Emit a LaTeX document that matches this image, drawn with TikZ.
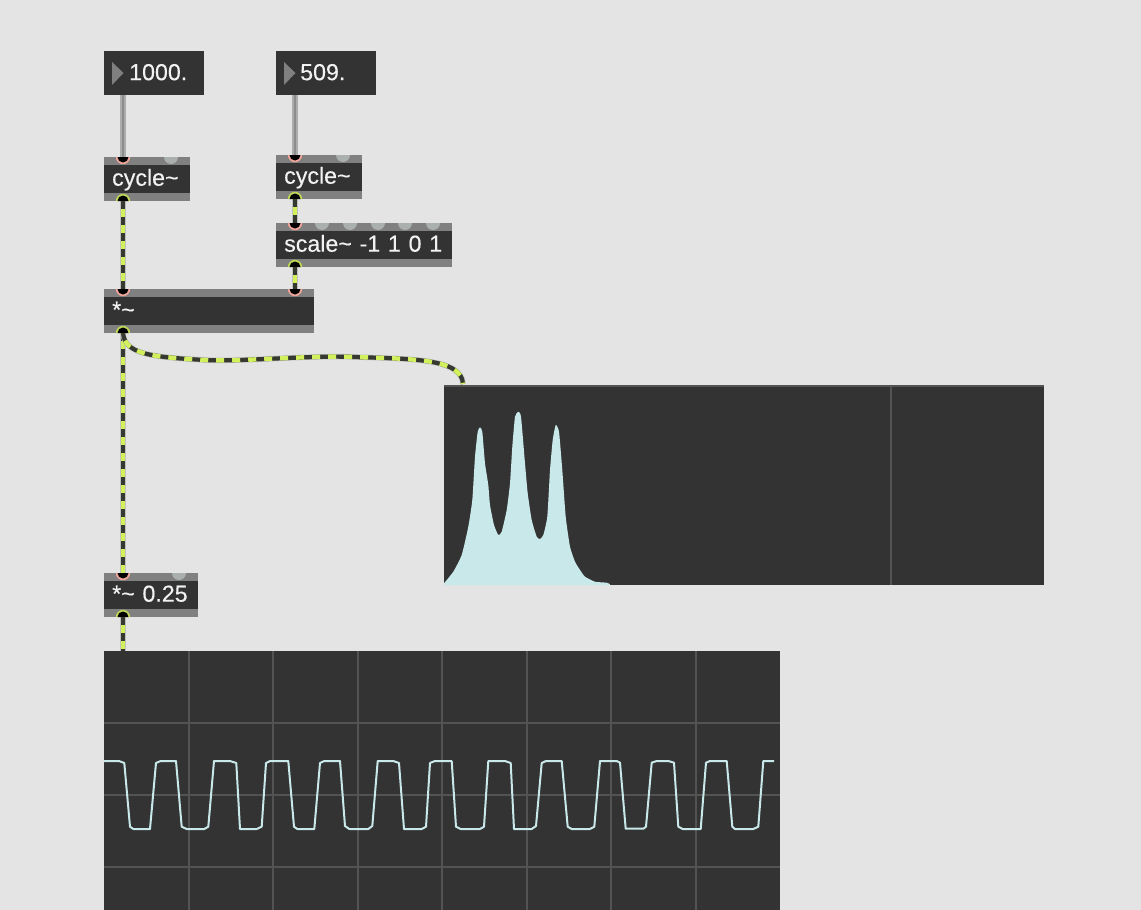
\documentclass[tikz,border=0pt]{standalone}
\usepackage{fontspec}
\setmainfont[FakeBold=0.25]{Liberation Sans}
\usepackage{xcolor}
\definecolor{patcher}{HTML}{E4E4E4}
\definecolor{objbody}{HTML}{333333}
\definecolor{objbar}{HTML}{808080}
\definecolor{gridln}{HTML}{535353}
\definecolor{tracecol}{HTML}{C9E8E9}
\definecolor{sigdark}{HTML}{35392F}
\definecolor{siglime}{HTML}{D2F05C}
\definecolor{portgray}{HTML}{AAB0AE}
\definecolor{inletcol}{HTML}{F2A598}
\tikzset{
  maxfont/.style={font=\fontsize{23.2}{25}\selectfont, text=white!95!black},
  numbox/.style={maxfont, fill=objbody, anchor=north west, inner xsep=0pt, inner ysep=0pt,
    text width=100pt, align=left, minimum height=44pt, text height=17.5pt, text depth=3.5pt},
  maxobj/.style={maxfont, fill=objbody, anchor=north west, inner xsep=8pt, inner ysep=0pt,
    align=left, minimum height=44pt, text height=17pt, text depth=4pt,
    path picture={
      \fill[objbar] (path picture bounding box.north west) rectangle ([yshift=-8pt]path picture bounding box.north east);
      \fill[objbar] (path picture bounding box.south west) rectangle ([yshift=8pt]path picture bounding box.south east);
    }},
  viewbox/.style={fill=objbody, anchor=north west, inner sep=0pt},
  gridline/.style={gridln, line width=2pt},
  msgcord/.style={draw=gray!90, line width=2pt, preaction={draw=gray!65, line width=5.5pt}},
  sigcord/.style={draw=sigdark, line width=4.2pt, preaction={draw=gray!50, line width=5.4pt},
    postaction={draw=siglime, line width=4.4pt, dash pattern=on 8pt off 8pt, dash phase=8pt}},
  inletdot/.style={fill=inletcol},
  outletdot/.style={fill=siglime!90!black},
  spareport/.style={fill=portgray},
}
\begin{document}
\begin{tikzpicture}[x=1pt,y=-1pt]
\fill[patcher] (0,0) rectangle (1141,910);
\useasboundingbox (0,0) rectangle (1141,910);

% number boxes
\node[numbox] (numA) at (104,51) {\hspace*{25pt}1000.};
\node[numbox] (numB) at (276,51) {\hspace*{24pt}509.};
\fill[objbar] (112,62) -- (123.5,73) -- (112,85) -- cycle;
\fill[objbar] (284,62) -- (295.5,73) -- (284,85) -- cycle;

% objects
\node[maxobj, text width=70pt] (cycA) at (104,157) {cycle\textasciitilde};
\node[maxobj, text width=70pt] (cycB) at (276,155) {cycle\textasciitilde};
\node[maxobj, text width=160pt] (scaleB) at (276,223) {scale\textasciitilde{} -1 1 0 1};
\node[maxobj, text width=194pt] (mulA) at (104,289) {*\textasciitilde};
\node[maxobj, text width=78pt] (mulB) at (104,573) {*\textasciitilde{} 0.25};

% unused inlets
\begin{scope}
\clip (104,157) rectangle (190,165) (276,155) rectangle (362,163) (276,223) rectangle (452,231) (104,573) rectangle (198,581);
\foreach \px/\py in {171/157,343/155,322/223,350/223,378/223,405/223,433/223,179/573}
  \fill[spareport] (\px,\py) circle [radius=7pt];
\end{scope}

% spectroscope
\node[viewbox, minimum width=600pt, minimum height=200pt] (spect) at (444,385) {};
\fill[gridln] (444,385) rectangle (1044,387);
\draw[gridline] (891,386) -- (891,585);
\fill[tracecol] plot[smooth, tension=0.3] coordinates {(444,583.3) (453.3,571.7) (461.7,555) (468.3,526.7) (472.3,500) (475,456.7)
  (477.7,431.7) (480,427.3) (482.3,431.7) (485,463.3) (488.3,485) (490,505) (494,525)
  (498.3,535) (501.7,531.7) (506.7,510) (510,483.3) (512.3,446.7) (515,416.7) (518.3,411.7)
  (521,416.7) (525,463.3) (527.7,493.3) (531.7,520) (536.7,536.7) (540,539) (543.3,535)
  (547.3,516.7) (550,470) (552.7,440) (555.7,425) (559,431.7) (562.3,470) (565.7,516.7)
  (570,546.7) (575,561.7) (580,570) (585,576.7) (595,581.7) (606.7,582.7) (610,584.3)} -- (610,585) -- (444,585) -- cycle;

% oscilloscope
\node[viewbox, minimum width=676pt, minimum height=259pt] (scopeview) at (104,651) {};
\foreach \gx in {189,273,358,442,527,611,696}
  \draw[gridline] (\gx,651) -- (\gx,910);
\foreach \gy in {723,795,867}
  \draw[gridline] (104,\gy) -- (780,\gy);
\draw[tracecol, line width=2pt, line join=round] (104,761) -- (119,761) -- (124.3,763) -- (130,826.7) -- (133.3,829)
  -- (150,829) -- (156,763) -- (160.7,761) -- (176,761) -- (181.7,826.7) -- (186.7,829) -- (204.3,829) -- (208.3,826.7)
  -- (214,761) -- (230,761) -- (236.3,763) -- (240,829) -- (256.7,829) -- (261.7,826.7) -- (266,763) -- (270,761)
  -- (288.3,761) -- (294,826.7) -- (297.3,829) -- (314.3,829) -- (320,763) -- (324.3,761) -- (340,761) -- (345,826)
  -- (349.3,829) -- (368.3,829) -- (372.3,826) -- (377.7,761) -- (393.3,761) -- (399,763) -- (404,829) -- (421.7,829)
  -- (426,826.7) -- (430,763) -- (435,761) -- (451.7,761) -- (456,826.7) -- (460.7,829) -- (480,829) -- (484,826.7)
  -- (488.3,761) -- (505,761) -- (510.7,763) -- (514,829) -- (531.7,829) -- (536,826) -- (541.7,763) -- (546,761)
  -- (561.7,761) -- (567.7,826.7) -- (571.7,829) -- (590,829) -- (594.3,826.7) -- (600,761) -- (616.7,761) -- (620,762.7)
  -- (625.7,828.7) -- (643.3,828.7) -- (646,826.7) -- (651.7,762.7) -- (656.7,761) -- (668.3,761) -- (674,762.7)
  -- (678.3,826.7) -- (682.7,829) -- (700.7,829) -- (706,762.7) -- (710,761) -- (726.7,761) -- (732.3,826.7) -- (735,829)
  -- (753.3,829) -- (758.3,826.7) -- (763.3,761) -- (774,761);

% ports
\coordinate (numAout) at (123,95);
\coordinate (numBout) at (295,95);
\coordinate (cycAin) at (123,157);
\coordinate (cycBin) at (295,155);
\coordinate (cycAout) at (123,201);
\coordinate (cycBout) at (295,199);
\coordinate (scaleIn) at (295,223);
\coordinate (scaleOut) at (295,267);
\coordinate (mulAinL) at (123,289);
\coordinate (mulAinR) at (295,289);
\coordinate (mulAout) at (123,333);
\coordinate (mulBin) at (123,573);
\coordinate (mulBout) at (123,617);
\coordinate (scopeIn) at (123,651);
\coordinate (spectIn) at (463,384);

% cords
\draw[msgcord] (numAout) -- (cycAin);
\draw[msgcord] (numBout) -- (cycBin);
\draw[sigcord] (cycAout) -- (mulAinL);
\draw[sigcord] (cycBout) -- (scaleIn);
\draw[sigcord] (scaleOut) -- (mulAinR);
\draw[sigcord] (mulAout) -- (mulBin);
\draw[sigcord] (mulBout) -- (scopeIn);
\draw[sigcord] (mulAout) .. controls (125,354) and (150,357) .. (205,360)
  .. controls (240,362) and (310,355) .. (355,357) .. controls (410,359) and (462,358) .. (spectIn);

% inlets and outlets on top of the cords
\foreach \pname in {cycAin,cycBin,scaleIn,mulAinL,mulAinR,mulBin}{
  \fill[inletdot] ([xshift=-7.2pt]\pname) arc [start angle=180, end angle=360, radius=7.2pt] -- cycle;
  \fill[black] ([xshift=-5.5pt]\pname) arc [start angle=180, end angle=360, radius=5.5pt] -- cycle;
}
\foreach \pname in {cycAout,cycBout,scaleOut,mulAout,mulBout}{
  \fill[outletdot] ([xshift=-7.2pt]\pname) arc [start angle=180, end angle=0, radius=7.2pt] -- cycle;
  \fill[black] ([xshift=-5.5pt]\pname) arc [start angle=180, end angle=0, radius=5.5pt] -- cycle;
}
\end{tikzpicture}
\end{document}
